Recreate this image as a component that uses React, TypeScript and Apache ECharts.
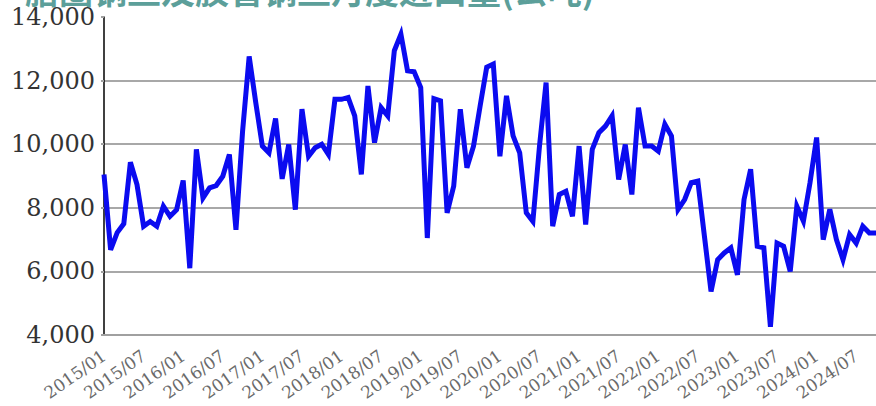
import React, { useEffect, useRef } from "react";
import * as echarts from "echarts";

const titleText = "胎圈钢丝及胶管钢丝月度进口量(公吨)";

const years = [2015, 2016, 2017, 2018, 2019, 2020, 2021, 2022, 2023, 2024];
const months = ["01", "02", "03", "04", "05", "06", "07", "08", "09", "10", "11", "12"];
const categories: string[] = [];
years.forEach((y) => months.forEach((m) => categories.push(`${y}/${m}`)));
const dates = categories.slice(0, 118);

const values2015 = [9050, 6680, 7220, 7500, 9430, 8730, 7420, 7570, 7420, 8050, 7730, 7940];
const values2016 = [8860, 6100, 9840, 8310, 8630, 8700, 8990, 9680, 7310, 10400, 12760, 11310];
const values2017 = [9940, 9730, 10810, 8910, 9990, 7940, 11100, 9620, 9890, 10000, 9680, 11410];
const values2018 = [11410, 11470, 10890, 9050, 11830, 10050, 11150, 10890, 12940, 13460, 12310, 12280];
const values2019 = [11780, 7050, 11430, 11360, 7840, 8680, 11100, 9260, 9940, 11200, 12420, 12520];
const values2020 = [9620, 11520, 10260, 9730, 7840, 7570, 9940, 11940, 7420, 8420, 8520, 7730];
const values2021 = [9940, 7470, 9840, 10360, 10570, 10890, 8890, 9990, 8420, 11150, 9940, 9940];
const values2022 = [9780, 10630, 10260, 7950, 8260, 8790, 8840, 7100, 5370, 6370, 6580, 6740];
const values2023 = [5890, 8260, 9210, 6790, 6740, 4260, 6890, 6790, 6000, 8050, 7580, 8790];
const values2024 = [10210, 7000, 7950, 7000, 6370, 7160, 6890, 7420, 7210, 7210];

const values = [
  ...values2015, ...values2016, ...values2017, ...values2018, ...values2019,
  ...values2020, ...values2021, ...values2022, ...values2023, ...values2024,
];

const yMin = 4000;
const yMax = 14000;
const yStep = 2000;

export default function App() {
  const ref = useRef<HTMLDivElement>(null);
  useEffect(() => {
    if (!ref.current) return;
    const chart = echarts.init(ref.current, null, { renderer: "svg" });
    chart.setOption({
      animation: false,
      backgroundColor: "#ffffff",
      graphic: [
        {
          type: "text",
          x: 25,
          y: 6,
          style: {
            text: titleText,
            fill: "#5c9f9a",
            font: "bold 34px 'Noto Sans CJK SC'",
            verticalAlign: "bottom",
          },
        },
      ],
      grid: { left: 104, right: 0, top: 17, bottom: 71, containLabel: false },
      xAxis: {
        type: "category",
        data: dates,
        boundaryGap: false,
        axisLine: { show: true, lineStyle: { color: "#a0a0a0", width: 2 } },
        axisTick: { show: false },
        axisLabel: {
          interval: 5,
          rotate: 35,
          margin: 19,
          color: "#6a6a6a",
          fontFamily: "DejaVu Serif",
          fontSize: 17,
        },
        splitLine: { show: false },
      },
      yAxis: {
        type: "value",
        min: yMin,
        max: yMax,
        interval: yStep,
        axisLine: { show: true, lineStyle: { color: "#000000", width: 1.5 } },
        axisTick: { show: true, length: 3, lineStyle: { color: "#a0a0a0", width: 2 } },
        axisLabel: {
          margin: 9,
          color: "#333333",
          fontFamily: "DejaVu Serif",
          fontSize: 24,
          formatter: (v: number) => v.toLocaleString("en-US"),
        },
        splitLine: {
          show: true,
          lineStyle: {
            color: ["#a8a8a8", "#a8a8a8", "#a8a8a8", "#a8a8a8", "#a8a8a8", "rgba(0,0,0,0)"],
            width: 2,
          },
        },
      },
      series: [
        {
          type: "line",
          data: values,
          showSymbol: false,
          symbol: "none",
          lineStyle: { color: "#0b0bf0", width: 5, join: "miter" },
          itemStyle: { color: "#0b0bf0" },
        },
      ],
    });
    return () => chart.dispose();
  }, []);
  return (
    <div
      ref={ref}
      style={{ position: "absolute", left: 0, top: 0, width: 876, height: 406 }}
    />
  );
}
